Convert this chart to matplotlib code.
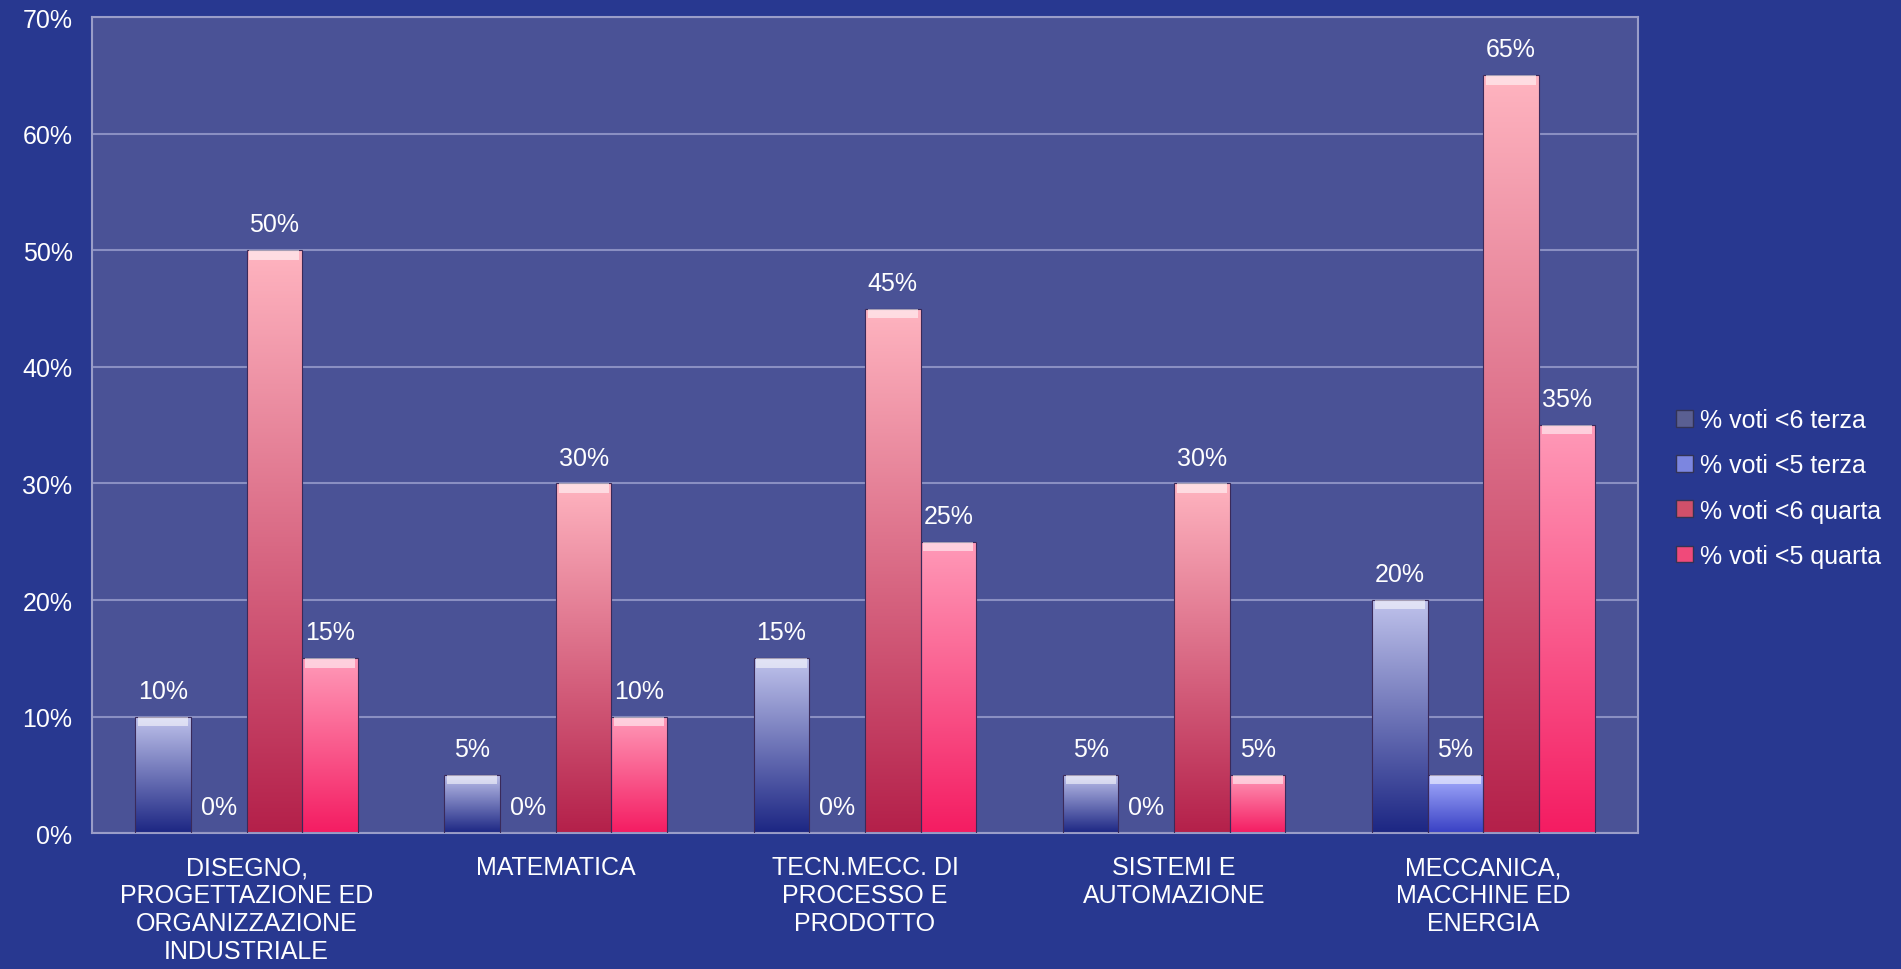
import matplotlib
matplotlib.use("Agg")
import matplotlib.pyplot as plt
from matplotlib.colors import LinearSegmentedColormap
from matplotlib.patches import Patch
import numpy as np

plt.rcParams['font.family'] = ['Liberation Sans', 'DejaVu Sans']

categories = ["DISEGNO,\nPROGETTAZIONE ED\nORGANIZZAZIONE\nINDUSTRIALE",
              "MATEMATICA",
              "TECN.MECC. DI\nPROCESSO E\nPRODOTTO",
              "SISTEMI E\nAUTOMAZIONE",
              "MECCANICA,\nMACCHINE ED\nENERGIA"]
series_names = ["% voti <6 terza", "% voti <5 terza", "% voti <6 quarta", "% voti <5 quarta"]
v6_terza = [10, 5, 15, 5, 20]
v5_terza = [0, 0, 0, 0, 5]
v6_quarta = [50, 30, 45, 30, 65]
v5_quarta = [15, 10, 25, 5, 35]
yticks = [0, 10, 20, 30, 40, 50, 60, 70]

# top colour, bottom colour for each series
grads = [("#c0c3ec", "#1c2683"),
         ("#a8b0ff", "#3840c4"),
         ("#ffb4c0", "#b4204a"),
         ("#ff9ab8", "#f41c62")]
legend_cols = ["#5a5f92", "#7c86e0", "#d0506a", "#f04a7a"]

bg = "#283890"
plot_bg = "#4a5296"

fig = plt.figure(figsize=(19.01, 9.70), dpi=100, facecolor=bg)
ax = fig.add_axes([0.0484, 0.140, 0.8132, 0.8414])
ax.set_facecolor(plot_bg)

x = np.arange(len(categories))
w = 0.18
all_series = [v6_terza, v5_terza, v6_quarta, v5_quarta]
ax.set_xlim(-0.5, len(categories) - 0.5)
ax.set_ylim(0, 70)

for i, vals in enumerate(all_series):
    pos = x + (i - 1.5) * w
    cmap = LinearSegmentedColormap.from_list("g%d" % i, [grads[i][1], grads[i][0]])
    bars = ax.bar(pos, vals, width=w, color="none", edgecolor="#3a2a5a",
                  linewidth=0.8, zorder=3)
    for b, v in zip(bars, vals):
        if v <= 0:
            continue
        x0 = b.get_x()
        grad = np.linspace(0, 1, 256).reshape(-1, 1)
        im = ax.imshow(grad, cmap=cmap, origin="lower", aspect="auto",
                       extent=(x0, x0 + w, 0, v), zorder=2)
        im.set_clip_path(b)
        # bevel highlight at the top of each bar
        ax.bar(b.get_x() + w / 2, 0.8, bottom=v - 0.8, width=w * 0.9,
               color="white", alpha=0.55, linewidth=0, zorder=4)
    for p, v in zip(pos, vals):
        ax.annotate("%d%%" % v, (p, v), xytext=(0, 10), textcoords="offset points",
                    ha="center", va="bottom", color="white", fontsize=18)

ax.set_yticks(yticks)
ax.set_yticklabels(["%d%%" % t for t in yticks])
ax.set_xticks(x)
ax.set_xticklabels(categories, linespacing=1.2)
ax.tick_params(axis="both", length=0, colors="white", labelsize=18)
ax.tick_params(axis="y", pad=14)
ax.tick_params(axis="x", pad=16)
ax.grid(axis="y", color="#8a8fc2", linewidth=1.5, zorder=1)
ax.set_axisbelow(True)
for s in ax.spines.values():
    s.set_color("#9a9dc8")
    s.set_linewidth(1.5)

handles = [Patch(facecolor=c, edgecolor="#333355") for c in legend_cols]
leg = fig.legend(handles, series_names, loc="center left",
                 bbox_to_anchor=(0.870, 0.496), frameon=False, fontsize=18,
                 handlelength=0.65, handleheight=0.65, handletextpad=0.3,
                 labelspacing=0.85, labelcolor="white")

fig.savefig("out.png", dpi=100, facecolor=bg)
